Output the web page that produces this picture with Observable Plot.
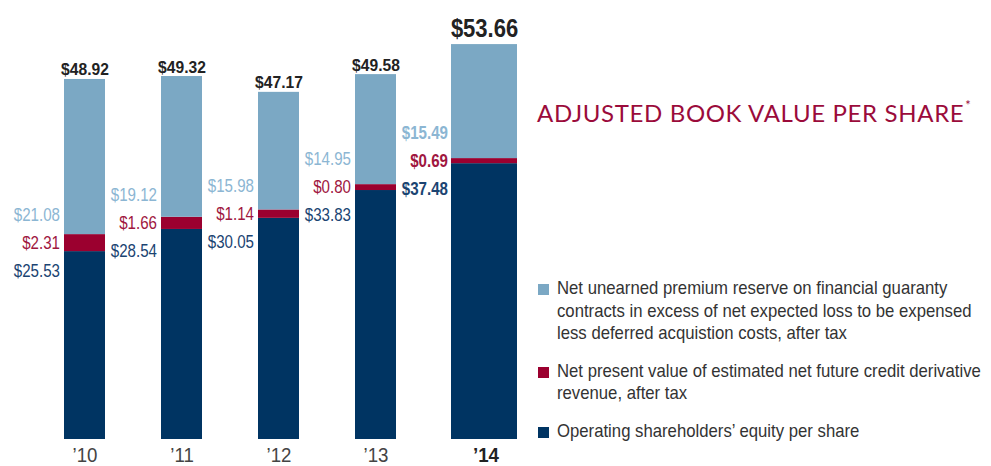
<!DOCTYPE html>
<html>
<head>
<meta charset="utf-8">
<script src="https://cdn.jsdelivr.net/npm/d3@7"></script>
<script src="https://cdn.jsdelivr.net/npm/@observablehq/plot@0.6"></script>
<style>
  html, body { margin: 0; padding: 0; background: #fff; }
  #wrap { position: relative; width: 991px; height: 466px; overflow: hidden; }
  #title { position: absolute; left: 537px; top: 98px; font-family: Lato, "Open Sans", sans-serif; font-size: 24px; color: #9b0b3b; letter-spacing: 0.65px; white-space: nowrap; }
  #title sup { font-size: 13px; position: relative; top: -3px; margin-left: 1px; }
  #legend { position: absolute; left: 538px; top: 277px; font-family: "Liberation Sans", Arial, sans-serif; font-size: 19px; color: #333; white-space: nowrap; }
  .item { position: relative; padding-left: 19px; line-height: 22.5px; margin-bottom: 15px; }
  .item .txt { display: inline-block; transform: scaleX(0.88); transform-origin: 0 0; }
  .sw { position: absolute; left: 0; top: 7px; width: 11px; height: 11px; }
</style>
</head>
<body>
<div id="wrap">
  <div id="chart"></div>
  <div id="title">ADJUSTED BOOK VALUE PER SHARE<sup>*</sup></div>
  <div id="legend"></div>
</div>
<script>
const years = ["’10", "’11", "’12", "’13", "’14"];
const operatingEquity = [25.53, 28.54, 30.05, 33.83, 37.48];
const creditDerivative = [2.31, 1.66, 1.14, 0.80, 0.69];
const premiumReserve = [21.08, 19.12, 15.98, 14.95, 15.49];
const totals = [48.92, 49.32, 47.17, 49.58, 53.66];

const seriesNames = ["Operating", "Credit", "Premium"];
const seriesColors = ["#003462", "#9b002f", "#7ba8c4"];
const labelColors = ["#1b4472", "#a0173f", "#8cb6d3"];
const legendTexts = [
  "Net unearned premium reserve on financial guaranty<br>contracts in excess of net expected loss to be expensed<br>less deferred acquistion costs, after tax",
  "Net present value of estimated net future credit derivative<br>revenue, after tax",
  "Operating shareholders’ equity per share"
];
const legendColors = ["#7ba8c4", "#9b002f", "#003462"];

const seriesValues = [operatingEquity, creditDerivative, premiumReserve];
const rows = [];
years.forEach((yr, i) => {
  seriesNames.forEach((s, j) => rows.push({year: yr, series: s, value: seriesValues[j][i]}));
});
const labels = [];
years.forEach((yr, i) => {
  const anchor = operatingEquity[i] + creditDerivative[i] / 2;
  seriesNames.forEach((s, j) => labels.push({year: yr, series: s, anchor, text: "$" + seriesValues[j][i].toFixed(2)}));
});
const labelOffsets = [28, 0, -28];
const totalRows = years.map((yr, i) => ({year: yr, total: totals[i], text: "$" + totals[i].toFixed(2)}));

const last = years[years.length - 1];
const isLast = d => d.year === last;
const notLast = d => d.year !== last;
const numFont = '"Liberation Sans", Arial, sans-serif';

const marks = [
  Plot.barY(rows.filter(notLast), {x: "year", y: "value", fill: "series"}),
  Plot.barY(rows.filter(isLast), {x: "year", y: "value", fill: "series", insetLeft: -1, insetRight: -24}),
  Plot.axisX({ticks: years.slice(0, -1), tickSize: 0, tickPadding: 8, fontSize: 21, fill: "#444", fontFamily: numFont, label: null}),
  Plot.axisX({ticks: [last], tickSize: 0, tickPadding: 8, fontSize: 21, fill: "#222", fontWeight: "bold", fontFamily: numFont, label: null, dx: 13})
];
seriesNames.forEach((s, j) => {
  [false, true].forEach(lastOne => {
    marks.push(Plot.text(labels.filter(d => d.series === s && (lastOne ? isLast(d) : notLast(d))), {
      x: "year", y: "anchor", text: "text", textAnchor: "end", dx: -25, dy: labelOffsets[j],
      fill: labelColors[j], fontSize: 18, fontFamily: numFont, fontWeight: lastOne ? "bold" : "normal"
    }));
  });
});
marks.push(Plot.text(totalRows.filter(notLast), {x: "year", y: "total", text: "text", lineAnchor: "bottom", dy: -4, fontSize: 17, fontWeight: "bold", fill: "#222", fontFamily: numFont}));
marks.push(Plot.text(totalRows.filter(isLast), {x: "year", y: "total", text: "text", lineAnchor: "bottom", dx: 11.5, dy: -8, fontSize: 25, fontWeight: "bold", fill: "#222", fontFamily: numFont}));

const chart = Plot.plot({
  width: 991,
  height: 466,
  marginTop: 0,
  marginBottom: 27,
  marginLeft: 36,
  marginRight: 470,
  x: {domain: years, paddingInner: 0.577, paddingOuter: 0.2885, axis: null},
  y: {domain: [0, 59.65], axis: null},
  color: {domain: seriesNames, range: seriesColors},
  style: {background: "transparent"},
  marks
});

// condensed look: narrow each text horizontally around its own anchor, by font size
const narrowBySize = {"18": 0.84, "17": 0.92, "25": 0.88, "21": 0.89};
chart.querySelectorAll("text").forEach(t => {
  const holder = t.closest("[font-size]");
  if (!holder) return;
  const s = narrowBySize[holder.getAttribute("font-size")];
  if (!s) return;
  let x = parseFloat(t.getAttribute("x"));
  if (!isFinite(x)) x = 0;
  const tr = t.getAttribute("transform") || "";
  t.setAttribute("transform", `${tr} translate(${x},0) scale(${s},1) translate(${-x},0)`);
});
document.getElementById("chart").appendChild(chart);

const legend = document.getElementById("legend");
legendTexts.forEach((t, i) => {
  const div = document.createElement("div");
  div.className = "item";
  div.innerHTML = `<span class="sw" style="background:${legendColors[i]}"></span><span class="txt">${t}</span>`;
  legend.appendChild(div);
});
</script>
</body>
</html>
